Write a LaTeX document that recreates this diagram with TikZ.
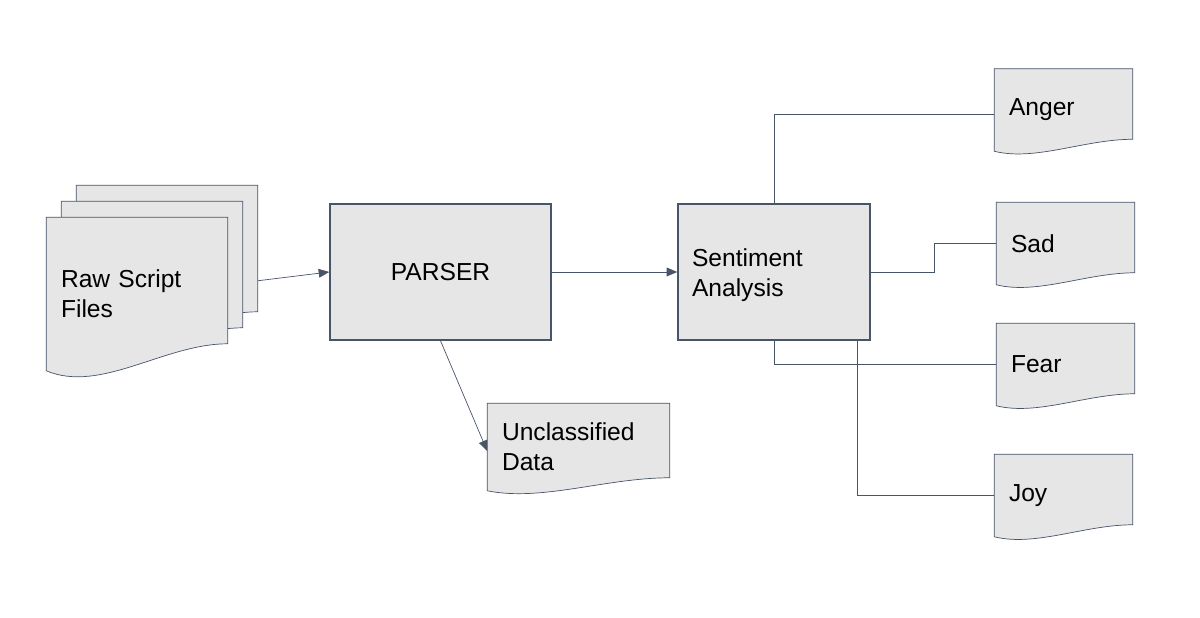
\documentclass[tikz,border=0pt]{standalone}
\usepackage{fontspec}
\setmainfont{Liberation Sans}
\usepackage{tikz}
\usetikzlibrary{arrows.meta,calc,backgrounds}

\definecolor{edgecol}{RGB}{72,84,104}
\definecolor{boxfill}{RGB}{230,230,230}

% document outline with a wavy bottom, right end raised by #2
\newcommand{\docwave}[2]{%
  \filldraw[draw=edgecol,fill=boxfill] (#1.south west) -- (#1.north west) -- (#1.north east)
    -- ($(#1.south east)+(0,#2)$)
    .. controls ($(#1.south east)!0.35!(#1.south west)+(0,#2)$)
    and ($(#1.south west)!0.3!(#1.south east)+(0,-0.85*#2)$) .. (#1.south west) -- cycle;}

\begin{document}
\begin{tikzpicture}[x=0.02cm,y=0.02cm,line width=0.9pt,
  font=\fontsize{14}{17}\selectfont,
  box node/.style={rectangle,draw=edgecol,fill=boxfill,minimum height=2.72cm},
  doc node/.style={rectangle,inner xsep=0.28cm,align=left},
  big doc/.style={doc node,minimum width=3.6cm,text width=3.04cm},
  small doc/.style={doc node,minimum width=2.74cm,text width=2.18cm,minimum height=1.62cm},
  elbow/.style={to path={|- (\tikztotarget)}},
  arrow/.style={-{Triangle[length=6pt,width=5pt]}}]

  \useasboundingbox (0,0) rectangle (1200,618);

  % stacked script files, back one first
  \node[big doc,minimum height=3.04cm] (raw3) at (167,356) {};
  \node[big doc,minimum height=3.04cm] (raw2) at (152,340) {};
  \node[big doc,minimum height=3.04cm] (raw1) at (137,324) {Raw Script\\Files};

  \node[box node,minimum width=4.42cm] (parser) at (440.5,346) {PARSER};
  \node[box node,minimum width=3.84cm,inner xsep=0.28cm,text width=3.28cm,align=left]
    (senti) at (774,346) {\rule{0pt}{14pt}Sentiment\\Analysis};

  \node[big doc,minimum height=1.72cm,minimum width=3.62cm,text width=3.06cm]
    (unclass) at (578.5,171) {Unclassified\\Data};

  % emotion outputs
  \node[small doc] (anger) at (1063.5,508) {Anger};
  \node[small doc] (sad) at (1065.5,374.5) {Sad};
  \node[small doc] (fear) at (1065.5,253.5) {Fear};
  \node[small doc] (joy) at (1063.5,122.5) {Joy};

  \begin{pgfonlayer}{background}
    \docwave{raw3}{0.54cm}
    \docwave{raw2}{0.54cm}
    \docwave{raw1}{0.54cm}
    \docwave{unclass}{0.26cm}
    \docwave{anger}{0.24cm}
    \docwave{sad}{0.24cm}
    \docwave{fear}{0.24cm}
    \docwave{joy}{0.24cm}
  \end{pgfonlayer}

  \coordinate (rawout) at ($(raw3.south east)+(0,58)$);
  \coordinate (joyout) at ($(senti.south east)+(-13,0)$);

  \path[arrow,color=edgecol]
    (rawout) edge (parser.west)
    (parser.east) edge (senti.west)
    (parser.south) edge ($(unclass.west)+(0,-4)$);

  \path[color=edgecol]
    (senti.north) edge[elbow] ($(anger.west)+(0,-4)$)
    (senti.east) edge[to path={-- ++(64,0) |- (\tikztotarget)}] (sad.west)
    (senti.south) edge[elbow] (fear.west)
    (joyout) edge[elbow] (joy.west);
\end{tikzpicture}
\end{document}
